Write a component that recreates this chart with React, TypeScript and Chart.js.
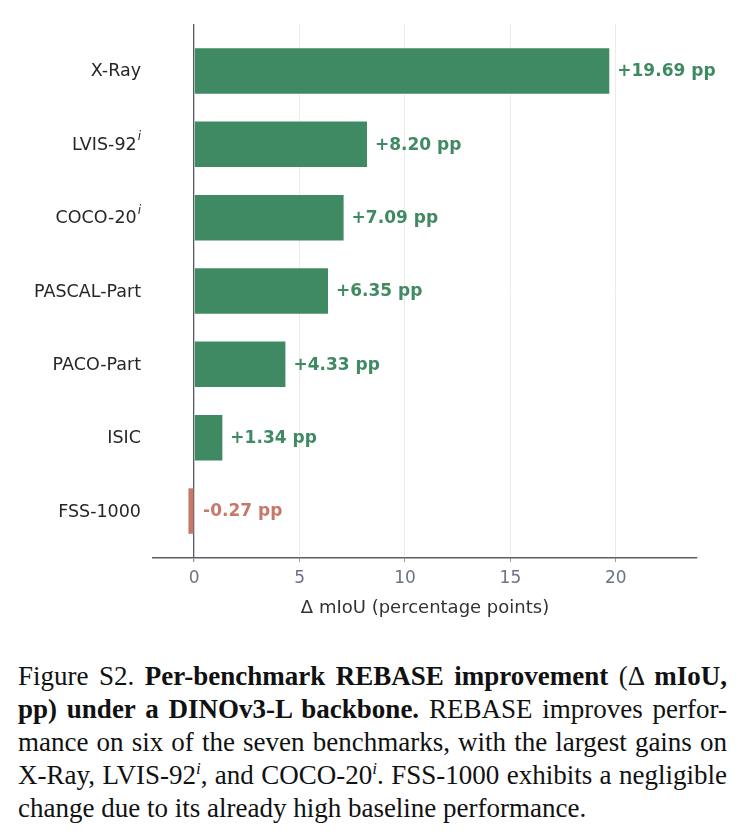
import React, { useEffect, useRef } from "react";
import { Chart, registerables } from "chart.js";

Chart.register(...registerables);

const categories = ["X-Ray", "LVIS-92", "COCO-20", "PASCAL-Part", "PACO-Part", "ISIC", "FSS-1000"];
const superscripts = ["", "i", "i", "", "", "", ""];
const deltas = [19.69, 8.2, 7.09, 6.35, 4.33, 1.34, -0.27];
const xTicks = [0, 5, 10, 15, 20];

const GREEN = "#3f8a62";
const RED = "#c8786a";
const FONT = "'DejaVu Sans', sans-serif";

export default function App() {
  const ref = useRef<HTMLCanvasElement | null>(null);

  useEffect(() => {
    if (!ref.current) return;
    const labelPlugin = {
      id: "labels",
      afterDatasetsDraw(chart: any) {
        const ctx = chart.ctx;
        const meta = chart.getDatasetMeta(0);
        const xScale = chart.scales.x;
        const yScale = chart.scales.y;
        const zero = xScale.getPixelForValue(0);
        ctx.save();
        ctx.font = `bold 17px ${FONT}`;
        ctx.textBaseline = "middle";
        ctx.textAlign = "left";
        meta.data.forEach((el: any, i: number) => {
          const v = deltas[i];
          const txt = (v >= 0 ? "+" : "") + v.toFixed(2) + " pp";
          ctx.fillStyle = v >= 0 ? GREEN : RED;
          const x = v >= 0 ? el.x + 8 : zero + 9;
          ctx.fillText(txt, x, el.y + 1);
        });
        const right = chart.chartArea.left - 12;
        categories.forEach((c, i) => {
          const y = yScale.getPixelForValue(i) + 1;
          ctx.fillStyle = "#262626";
          let x = right;
          if (superscripts[i]) {
            ctx.font = `italic 12px ${FONT}`;
            const w = ctx.measureText(superscripts[i]).width;
            ctx.textAlign = "right";
            ctx.fillText(superscripts[i], x, y - 8);
            x -= w + 1;
          }
          ctx.font = `17.5px ${FONT}`;
          ctx.textAlign = "right";
          ctx.fillText(c, x, y);
        });
        ctx.restore();
      },
    };

    const chart = new Chart(ref.current, {
      type: "bar",
      data: {
        datasets: [
          {
            data: deltas.map((v, i) => ({ x: v, y: i })),
            backgroundColor: deltas.map((v) => (v >= 0 ? GREEN : RED)),
            borderWidth: 0,
            barPercentage: 0.62,
            categoryPercentage: 1,
          },
        ],
      },
      options: {
        indexAxis: "y",
        animation: false,
        responsive: false,
        devicePixelRatio: 1,
        layout: { padding: { top: 16, right: 40, bottom: 10, left: 0 } },
        plugins: { legend: { display: false }, tooltip: { enabled: false } },
        scales: {
          x: {
            type: "linear",
            min: -1.95,
            max: 23.85,
            afterBuildTicks: (s: any) => {
              s.ticks = xTicks.map((v) => ({ value: v }));
            },
            grid: {
              color: (c: any) => (c.tick && c.tick.value === 0 ? "#555a60" : "#ebebeb"),
              lineWidth: (c: any) => (c.tick && c.tick.value === 0 ? 1.3 : 1),
              tickColor: "#9a9a9a",
              tickLength: 4,
              drawTicks: true,
            },
            border: { display: true, color: "#5b5f66", width: 1.5 },
            ticks: {
              color: "#6b7385",
              font: { family: FONT, size: 17 },
              padding: 6,
            },
            title: {
              display: true,
              text: "Δ mIoU (percentage points)",
              color: "#333333",
              font: { family: FONT, size: 18 },
              padding: { top: 3, bottom: 4 },
            },
          },
          y: {
            type: "linear",
            min: -0.64,
            max: 6.64,
            offset: false,
            reverse: true,
            afterBuildTicks: (s: any) => {
              s.ticks = categories.map((_, i) => ({ value: i }));
            },
            afterFit: (s: any) => {
              s.width = 145;
            },
            ticks: { display: false },
            grid: { display: false },
            border: { display: false },
          },
        },
      },
      plugins: [labelPlugin],
    } as any);
    return () => chart.destroy();
  }, []);

  const lineStyle: React.CSSProperties = {
    textAlign: "justify",
    textAlignLast: "justify" as any,
    whiteSpace: "normal",
  };

  return (
    <div style={{ width: 729 }}>
      <canvas ref={ref} width={729} height={625} style={{ display: "block" }} />
      <div
        style={{
          marginTop: 27,
          padding: "0 10px",
          fontFamily: "'Liberation Serif', 'Times New Roman', serif",
          fontSize: 27,
          lineHeight: "33px",
          color: "#111",
        }}
      >
        <div style={lineStyle}>
          Figure S2. <b>Per-benchmark REBASE improvement</b> (Δ <b>mIoU,</b>
        </div>
        <div style={lineStyle}>
          <b>pp) under a DINOv3-L backbone.</b> REBASE improves perfor-
        </div>
        <div style={lineStyle}>mance on six of the seven benchmarks, with the largest gains on</div>
        <div style={lineStyle}>
          X-Ray, LVIS-92<sup style={{ fontSize: 17, lineHeight: 0 }}><i>i</i></sup>, and COCO-20
          <sup style={{ fontSize: 17, lineHeight: 0 }}><i>i</i></sup>. FSS-1000 exhibits a negligible
        </div>
        <div style={{ textAlign: "left" }}>change due to its already high baseline performance.</div>
      </div>
    </div>
  );
}
